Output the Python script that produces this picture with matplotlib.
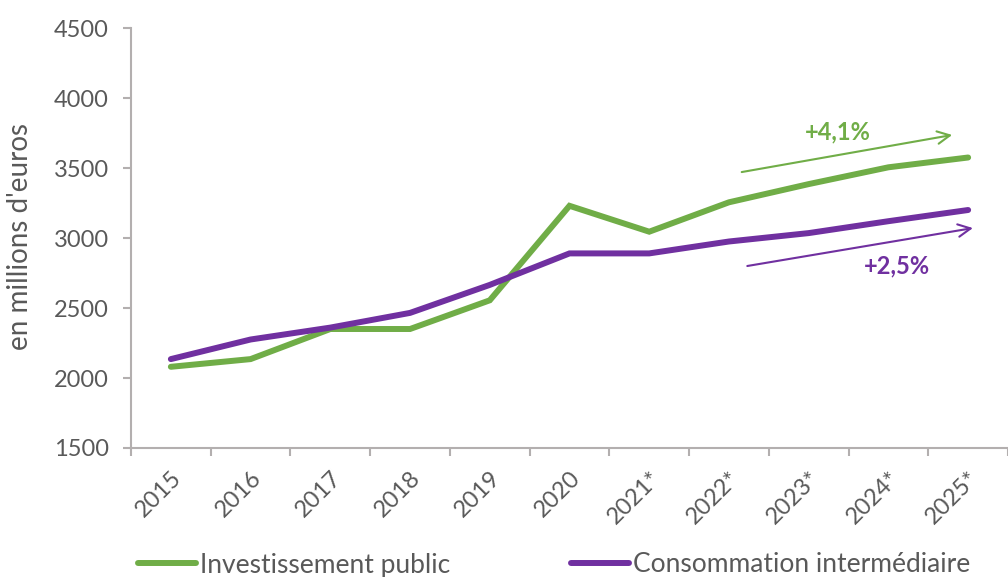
import matplotlib.pyplot as plt
import numpy as np

plt.rcParams['font.family'] = ['Lato', 'DejaVu Sans']

years = ["2015", "2016", "2017", "2018", "2019", "2020",
         "2021*", "2022*", "2023*", "2024*", "2025*"]
investissement = [2080, 2135, 2350, 2350, 2555, 3230, 3045, 3255, 3385, 3505, 3575]
consommation = [2135, 2275, 2360, 2465, 2665, 2890, 2890, 2975, 3035, 3120, 3200]

GREEN = "#70AD47"
PURPLE = "#7030A0"
GREY_TXT = "#595959"
GREY_AX = "#B3AFAF"

fig = plt.figure(figsize=(10.08, 5.77), dpi=100)
ax = fig.add_axes([131 / 1008, 1 - 448 / 577, 877 / 1008, 420 / 577])

x = np.arange(len(years))
ax.plot(x, investissement, color=GREEN, lw=4.3, solid_joinstyle="miter",
        solid_capstyle="round", label="Investissement public")
ax.plot(x, consommation, color=PURPLE, lw=4.3, solid_joinstyle="miter",
        solid_capstyle="round", label="Consommation intermédiaire")

ax.set_xlim(-0.5, -0.5 + 877 / 80.7)
ax.set_ylim(1500, 4500)
ax.set_yticks(np.arange(1500, 4501, 500))
ax.set_xticks(x)
ax.set_xticklabels(years, rotation=45, ha="right", rotation_mode="anchor")
ax.set_xticks(np.arange(-0.5, 11, 1), minor=True)

for s in ["top", "right"]:
    ax.spines[s].set_visible(False)
for s in ["left", "bottom"]:
    ax.spines[s].set_color(GREY_AX)
    ax.spines[s].set_linewidth(1.5)

ax.tick_params(axis="y", colors=GREY_AX, labelcolor=GREY_TXT, labelsize=17,
               length=6, width=1.5, pad=10)
ax.tick_params(axis="x", which="major", length=0, labelcolor=GREY_TXT,
               labelsize=17, pad=14)
ax.tick_params(axis="x", which="minor", colors=GREY_AX, length=6, width=1.5)

ax.set_ylabel("en millions d'euros", fontsize=20, color=GREY_TXT)
ax.yaxis.set_label_coords(-0.112, 0.504)

# growth arrows
arrow_style = "->,head_length=0.9,head_width=0.45"
ax.annotate("", xy=(9.80, 3736), xytext=(7.16, 3471),
            arrowprops=dict(arrowstyle=arrow_style, color=GREEN, lw=1.5,
                            shrinkA=0, shrinkB=0))
ax.text(8.36, 3757, "+4,1%", color=GREEN, fontsize=17, fontweight="bold",
        ha="center", va="center")
ax.annotate("", xy=(10.06, 3071), xytext=(7.23, 2800),
            arrowprops=dict(arrowstyle=arrow_style, color=PURPLE, lw=1.5,
                            shrinkA=0, shrinkB=0))
ax.text(9.11, 2800, "+2,5%", color=PURPLE, fontsize=17, fontweight="bold",
        ha="center", va="center")

fig.legend(loc="center", bbox_to_anchor=(554 / 1008, 1 - 565 / 577),
           ncol=2, frameon=False, fontsize=19, handlelength=2.2,
           handletextpad=0.15, columnspacing=4.6, labelcolor=GREY_TXT)

fig.savefig("out.png", dpi=100)
